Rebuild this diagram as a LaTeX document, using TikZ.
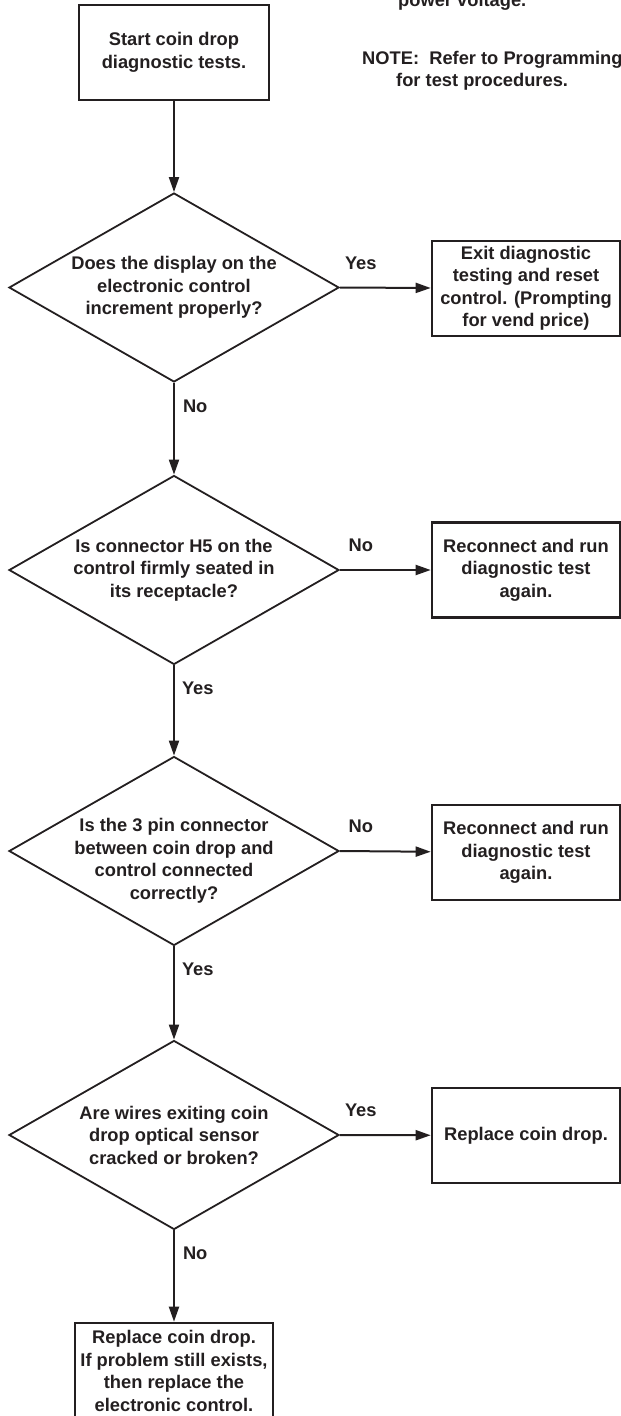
\documentclass[tikz,border=0pt]{standalone}
\usepackage{fontspec}
\setmainfont{Liberation Sans}
\usetikzlibrary{shapes.geometric, arrows.meta, positioning}
\definecolor{inkblack}{HTML}{231F20}
\tikzset{
  stepbox/.style={draw=inkblack, line width=2.6pt, minimum width=#1,
              minimum height=95pt, inner sep=0pt,
              align=center, text=inkblack},
  askbox/.style={diamond, draw=inkblack, line width=1.8pt, aspect=1.746,
              minimum width=330pt, minimum height=189pt,
              inner xsep=0pt, inner ysep=-20pt,
              align=center, text=inkblack},
  flowarr/.style={-{Triangle[length=15pt, width=10pt]}, line width=2pt, color=inkblack},
  flowlabel/.style={text=inkblack, inner sep=0pt},
}

\begin{document}
\begin{tikzpicture}[x=1pt, y=-1pt, font=\fontsize{18.3}{22.5}\selectfont\bfseries]
  \useasboundingbox (0,0) rectangle (621,1416);

  % note at the top right
  \node[flowlabel, anchor=base west] (volt) at (398,6)    {power voltage.};
  \node[flowlabel, anchor=base west] (note) at (362,64.6) {NOTE:\ \ Refer to Programming};
  \node[flowlabel, anchor=base west] (proc) at (396,86.6) {for test procedures.};

  % main column
  \node[stepbox=190pt] (start) at (174,52.5) {Start coin drop\\diagnostic tests.};
  \node[askbox]        (q1)    at (174,287.5) {Does the display on the\\electronic control\\increment properly?};
  \node[askbox]        (q2)    at (174,570)   {Is connector H5 on the\\control firmly seated in\\its receptacle?};
  \node[askbox]        (q3)    at (174,851)   {\rule{0pt}{33pt}Is the 3 pin connector\\between coin drop and\\control connected\\correctly?};
  \node[askbox]        (q4)    at (174,1135)  {Are wires exiting coin\\drop optical sensor\\cracked or broken?};
  \node[stepbox=198pt, minimum height=96pt] (fix) at (174,1371) {Replace coin drop.\\If problem still exists,\\then replace the\\electronic control.};

  % answers on the right
  \node[stepbox=188pt] (exit) at (526,288.5)  {Exit diagnostic\\testing and reset\\control. (Prompting\\for vend price)};
  \node[stepbox=188pt] (r2)   at (526,570)    {Reconnect and run\\diagnostic test\\again.};
  \node[stepbox=188pt] (r3)   at (526,852.5)  {Reconnect and run\\diagnostic test\\again.};
  \node[stepbox=188pt] (r4)   at (526,1135.5) {Replace coin drop.};

  \draw[flowarr] (start) -- (q1.north);
  \draw[flowarr] (q1.south) -- node[flowlabel, pos=0.25, anchor=west, xshift=8pt] {No}  (q2.north);
  \draw[flowarr] (q2.south) -- node[flowlabel, pos=0.25, anchor=west, xshift=7pt] {Yes} (q3.north);
  \draw[flowarr] (q3.south) -- node[flowlabel, pos=0.25, anchor=west, xshift=7pt] {Yes} (q4.north);
  \draw[flowarr] (q4.south) -- node[flowlabel, pos=0.25, anchor=west, xshift=8pt] {No}  (fix);

  \draw[flowarr] (q1.east) -- node[flowlabel, pos=0.23, above=17pt] {Yes} (exit);
  \draw[flowarr] (q2.east) -- node[flowlabel, pos=0.23, above=17pt] {No}  (r2);
  \draw[flowarr] (q3.east) -- node[flowlabel, pos=0.23, above=17pt] {No}  (r3);
  \draw[flowarr] (q4.east) -- node[flowlabel, pos=0.23, above=17pt] {Yes} (r4);
\end{tikzpicture}
\end{document}
